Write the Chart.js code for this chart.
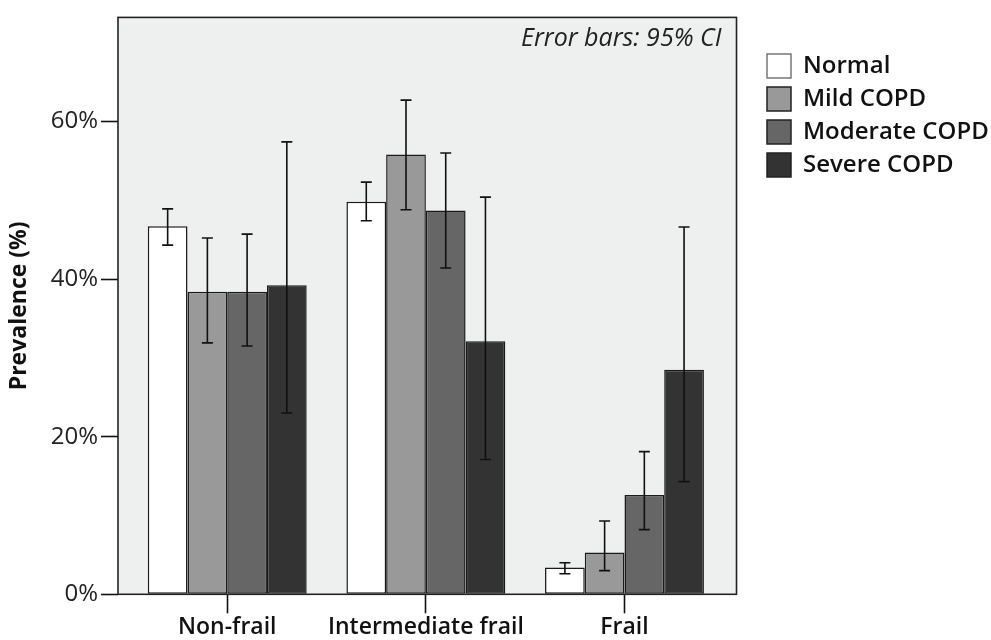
<!DOCTYPE html>
<html>
<head>
<meta charset="utf-8">
<script src="https://cdn.jsdelivr.net/npm/chart.js@4.4.1/dist/chart.umd.min.js"></script>
<style>
    html, body { margin: 0; padding: 0; background: #fff; }
    #caixa { width: 991px; height: 640px; position: relative; }
</style>
</head>
<body>
<div id="caixa"><canvas id="grafico1"></canvas></div>
<script>
// dados
const categorias = ['Non-frail', 'Intermediate frail', 'Frail'];
const series = ['Normal', 'Mild COPD', 'Moderate COPD', 'Severe COPD'];
const normal = [46.7, 49.8, 3.4];
const mild = [38.4, 55.8, 5.3];
const moderate = [38.4, 48.7, 12.6];
const severe = [39.2, 32.1, 28.5];
const normalLo = [44.3, 47.4, 2.6];
const normalHi = [48.9, 52.3, 4.0];
const mildLo = [31.9, 48.8, 3.0];
const mildHi = [45.2, 62.7, 9.3];
const moderateLo = [31.5, 41.4, 8.2];
const moderateHi = [45.7, 56.0, 18.1];
const severeLo = [23.0, 17.1, 14.3];
const severeHi = [57.4, 50.4, 46.6];
const yTicks = [0, 20, 40, 60];

const valores = [normal, mild, moderate, severe];
const ciLo = [normalLo, mildLo, moderateLo, severeLo];
const ciHi = [normalHi, mildHi, moderateHi, severeHi];
const cores = ['#ffffff', '#999999', '#666666', '#333333'];

const fonte = "'Open Sans', sans-serif";

// fundo cinza, moldura, barras de erro e nota
const moldura = {
    id: 'moldura',
    beforeDraw(chart) {
        const a = chart.chartArea;
        const ctx = chart.ctx;
        ctx.save();
        ctx.fillStyle = '#eef0ef';
        ctx.fillRect(a.left, a.top, a.right - a.left, a.bottom - a.top);
        ctx.restore();
    },
    afterDatasetsDraw(chart) {
        const a = chart.chartArea;
        const ctx = chart.ctx;
        const y = chart.scales.y;
        ctx.save();
        ctx.strokeStyle = '#111';
        ctx.lineWidth = 1.6;
        chart.data.datasets.forEach((ds, d) => {
            chart.getDatasetMeta(d).data.forEach((bar, i) => {
                const x = bar.x;
                const yHi = y.getPixelForValue(ciHi[d][i]);
                const yLo = y.getPixelForValue(ciLo[d][i]);
                ctx.beginPath();
                ctx.moveTo(x, yHi); ctx.lineTo(x, yLo);
                ctx.moveTo(x - 5.5, yHi); ctx.lineTo(x + 5.5, yHi);
                ctx.moveTo(x - 5.5, yLo); ctx.lineTo(x + 5.5, yLo);
                ctx.stroke();
            });
        });
        ctx.strokeStyle = '#222';
        ctx.lineWidth = 1.6;
        ctx.strokeRect(a.left, a.top, a.right - a.left, a.bottom - a.top);
        ctx.fillStyle = '#222';
        ctx.font = 'italic 25px ' + fonte;
        ctx.textAlign = 'right';
        ctx.textBaseline = 'middle';
        ctx.fillText('Error bars: 95% CI', a.right - 15, a.top + 21);
        ctx.restore();
    }
};

const ctx = document.getElementById('grafico1');

new Chart(ctx, {
    type: 'bar',
    data: {
        datasets: series.map((nome, d) => ({
            label: nome,
            data: valores[d].map((v, i) => ({ x: i, y: v })),
            backgroundColor: cores[d],
            borderColor: '#1a1a1a',
            borderWidth: 1.5,
            borderSkipped: false,
            categoryPercentage: 0.8,
            barPercentage: 1.0
        }))
    },
    options: {
        responsive: true,
        maintainAspectRatio: false,
        animation: false,
        layout: { padding: { top: 11, left: 0, right: 0, bottom: 0 } },
        plugins: {
            tooltip: { enabled: false },
            legend: {
                position: 'right',
                align: 'start',
                maxWidth: 233,
                title: {
                    display: true,
                    text: ' ',
                    font: { size: 10, lineHeight: 1 },
                    padding: { top: 0, bottom: 24 }
                },
                labels: {
                    boxWidth: 24,
                    boxHeight: 24,
                    padding: 9,
                    color: '#111',
                    font: { family: fonte, size: 24, weight: '600' },
                    generateLabels(chart) {
                        const itens = Chart.defaults.plugins.legend.labels.generateLabels(chart);
                        itens.forEach((it, i) => {
                            it.strokeStyle = i === 0 ? '#777' : '#222';
                            it.lineWidth = 1.5;
                        });
                        return itens;
                    }
                }
            }
        },
        scales: {
            x: {
                type: 'linear',
                min: -0.55,
                max: 2.564,
                offset: false,
                afterBuildTicks(s) { s.ticks = categorias.map((c, i) => ({ value: i })); },
                afterFit(s) { s.height = 45.7; },
                ticks: {
                    autoSkip: false,
                    maxRotation: 0,
                    padding: 0,
                    color: '#111',
                    font: { family: fonte, size: 23, weight: '600' },
                    callback: (v) => categorias[v]
                },
                grid: {
                    offset: false,
                    drawOnChartArea: false,
                    drawTicks: true,
                    tickLength: 19,
                    tickWidth: 1.6,
                    tickColor: '#111'
                },
                border: { display: false }
            },
            y: {
                min: 0,
                max: 73.2,
                afterBuildTicks(s) { s.ticks = yTicks.map(v => ({ value: v })); },
                afterFit(s) { s.width = 118; },
                ticks: {
                    padding: 3,
                    color: '#222',
                    font: { family: fonte, size: 24, weight: '500' },
                    callback: (v) => v + '%'
                },
                grid: {
                    drawOnChartArea: false,
                    drawTicks: true,
                    tickLength: 17,
                    tickWidth: 1.6,
                    tickColor: '#111'
                },
                border: { display: false },
                title: {
                    display: true,
                    text: 'Prevalence (%)',
                    color: '#111',
                    font: { family: fonte, size: 23, weight: '700' },
                    padding: { top: 6, bottom: 0 }
                }
            },
            espaco: {
                type: 'linear',
                position: 'right',
                display: true,
                afterFit(s) { s.width = 21.5; },
                ticks: { display: false },
                grid: { display: false },
                border: { display: false }
            }
        }
    },
    plugins: [moldura]
});
</script>
</body>
</html>
